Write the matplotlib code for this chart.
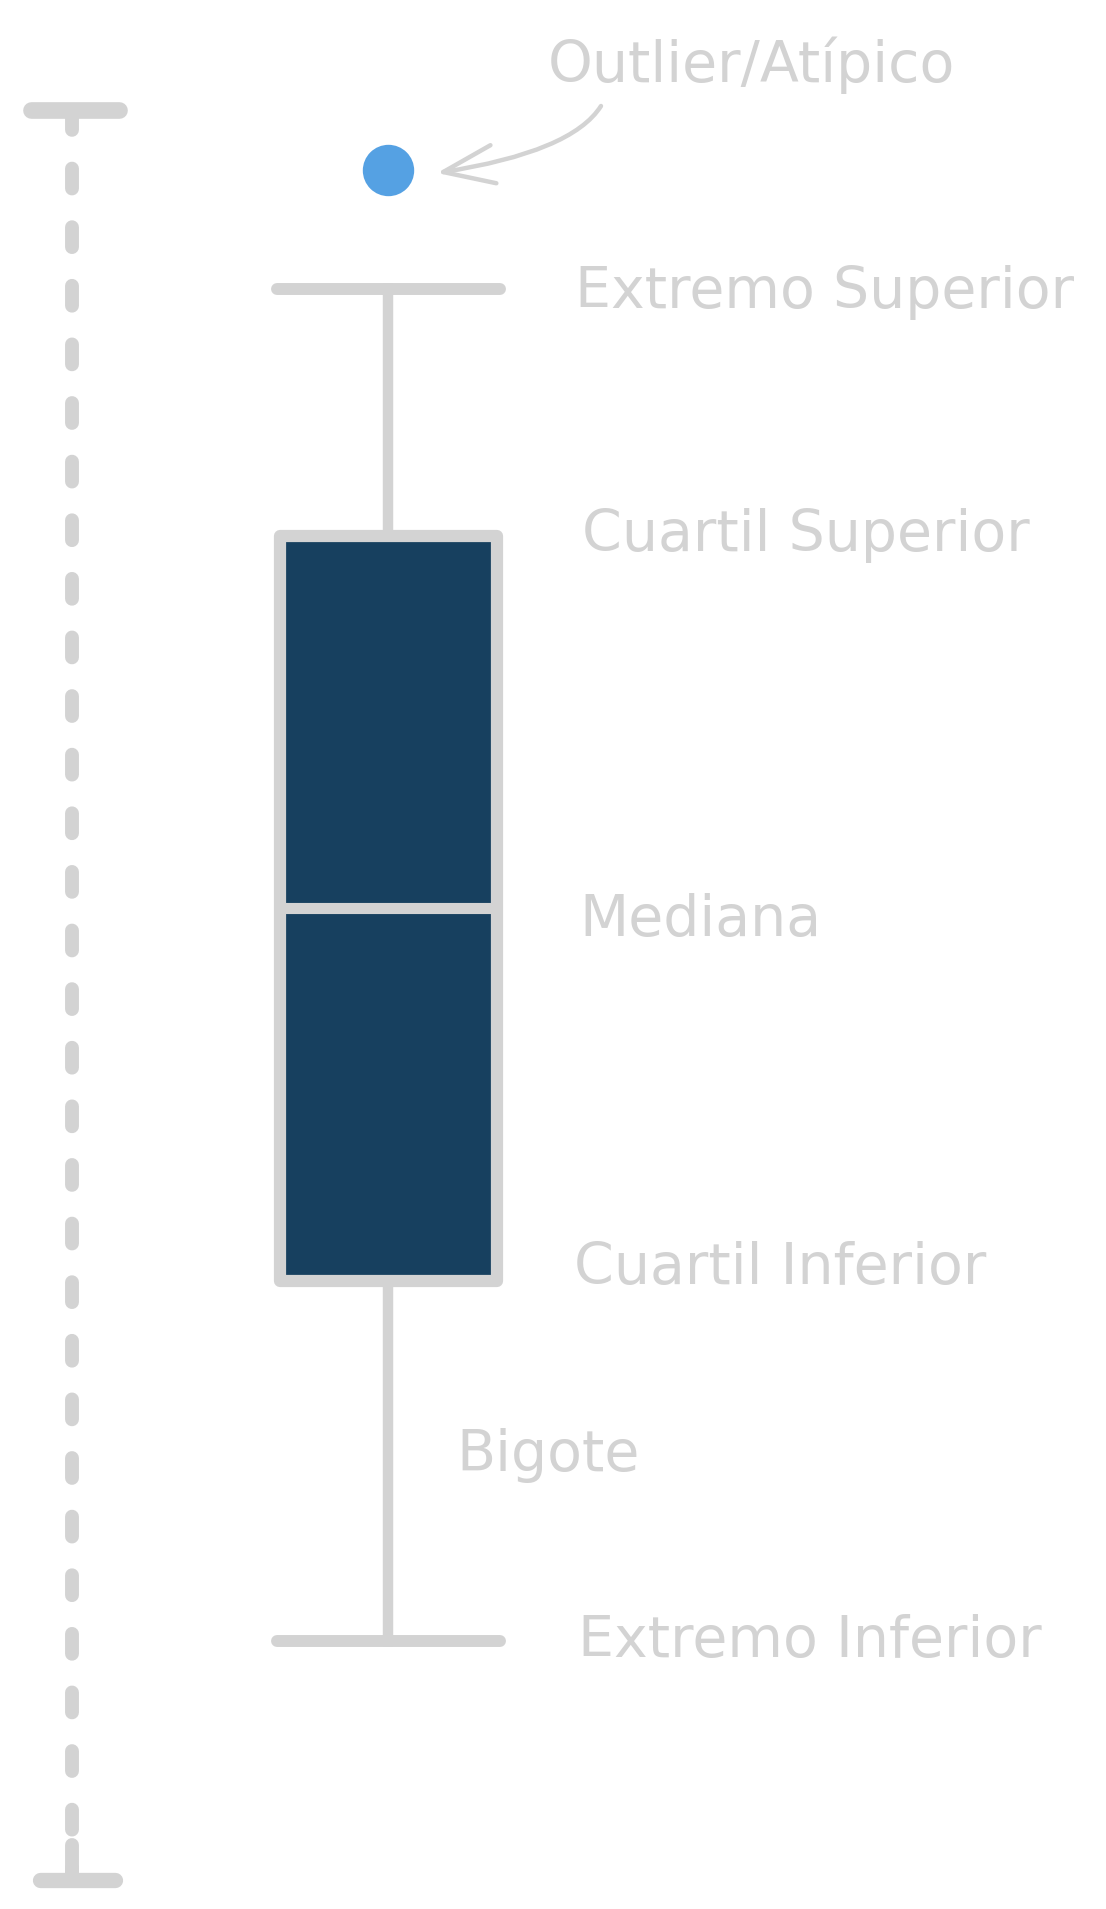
import numpy as np
import matplotlib.pyplot as plt
from matplotlib.path import Path
from matplotlib.patches import FancyArrowPatch

# values of the example box (arbitrary units, bottom = 0)
whisker_lo = 26.8
q1 = 62.8
median = 100.1
q3 = 137.3
whisker_hi = 162.0
outliers = [173.9]
axis_range = [2.9, 179.9]

labels = ['Outlier/Atípico', 'Extremo Superior', 'Cuartil Superior', 'Mediana',
          'Cuartil Inferior', 'Bigote', 'Extremo Inferior']

gray = '#d3d3d3'
box_color = '#17405f'
dot_color = '#55a1e3'

fig = plt.figure(figsize=(11.06, 19.09), dpi=100)
ax = fig.add_axes([0, 0, 1, 1])
ax.set_xlim(0, 1106)
ax.set_ylim(0, 190.9)
ax.axis('off')

# the box plot itself
stats = [dict(whislo=whisker_lo, q1=q1, med=median, q3=q3, whishi=whisker_hi, fliers=outliers)]
box_x = 388
ax.bxp(stats, positions=[box_x], widths=[217], capwidths=[223], patch_artist=True,
       boxprops=dict(facecolor=box_color, edgecolor=gray, linewidth=8.8, joinstyle='round'),
       whiskerprops=dict(color=gray, linewidth=7.5),
       capprops=dict(color=gray, linewidth=8.6, solid_capstyle='round'),
       medianprops=dict(color=gray, linewidth=8),
       flierprops=dict(marker='o', markersize=37, markerfacecolor=dot_color,
                       markeredgecolor='none'))

# dashed value axis on the left
axis_x = 72
ax.plot([axis_x, axis_x], [axis_range[1], axis_range[0]], color=gray, linewidth=10,
        linestyle=(0, (1.43, 2.79)), dash_capstyle='round')
ax.plot([31, 119], [axis_range[1]] * 2, color=gray, linewidth=12, solid_capstyle='round')
ax.plot([40, 115], [axis_range[0]] * 2, color=gray, linewidth=11, solid_capstyle='round')
ax.plot([axis_x, axis_x], [axis_range[0], axis_range[0] + 3.5], color=gray, linewidth=10,
        solid_capstyle='round')

# labels (x in pixels, y at the text baseline)
label_x = [548, 575, 582, 579, 574, 456, 578]
label_y = [182.7, 160.1, 135.8, 97.3, 62.5, 43.8, 25.2]
for txt, x, y in zip(labels, label_x, label_y):
    ax.text(x, y, txt, fontsize=41, color=gray, ha='left', va='baseline',
            family='DejaVu Sans')

# curved arrow pointing to the outlier
tip = (box_x + 49, outliers[0] - 0.3)
arrow_path = Path([(601, 180.3), (572, 175.7), tip], [Path.MOVETO, Path.CURVE3, Path.CURVE3])
ax.add_patch(FancyArrowPatch(path=arrow_path, arrowstyle='->,head_length=0.95,head_width=0.36',
                             color=gray, linewidth=3.2, mutation_scale=38.5,
                             capstyle='round', joinstyle='round'))

fig.savefig('out.png', dpi=100, facecolor='white')
